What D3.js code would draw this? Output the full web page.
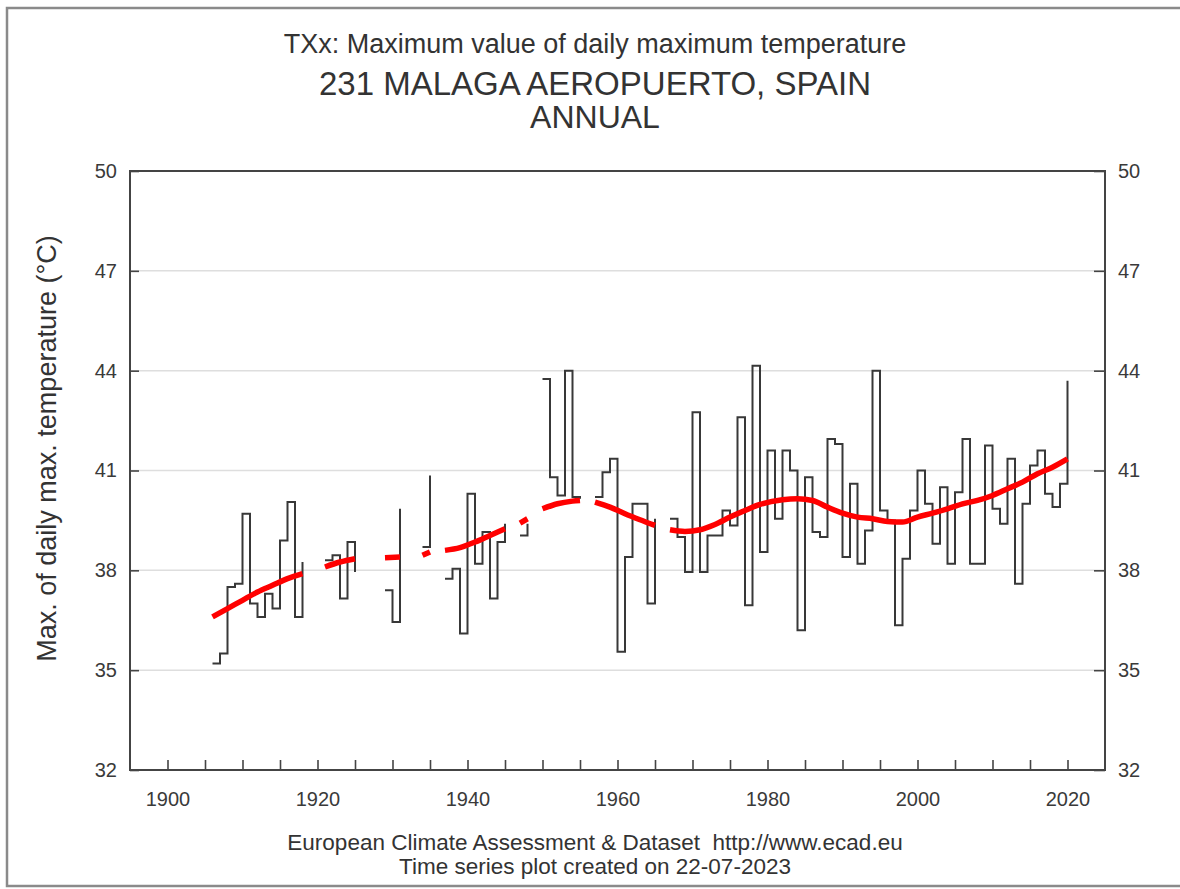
<!DOCTYPE html>
<html>
<head>
<meta charset="utf-8">
<script src="https://cdn.jsdelivr.net/npm/d3@7"></script>
<style>
  body { margin: 0; background: #fff; }
  svg { display: block; font-family: "Liberation Sans", Arial, sans-serif; }
</style>
</head>
<body>
<div id="chart-container"></div>
<script>
// annual TXx values, null = missing year
const years = d3.range(1906, 2021);
const values = [
  35.2, 35.5, 37.5, 37.6, 39.7, 37.0, 36.6, 37.3, 36.85, 38.9,   // 1906-1915
  40.05, 36.6, 38.25, null, null, 38.3, 38.45, 37.15, 38.85, 37.95, // 1916-1925
  null, null, null, 37.4, 36.45, 39.85, null, null, 38.7, 40.85,  // 1926-1935
  null, 37.75, 38.05, 36.1, 40.3, 38.2, 39.15, 37.15, 38.85, 39.4, // 1936-1945
  null, 39.05, 39.4, null, 43.75, 40.8, 40.25, 44.0, 40.2, 40.15, // 1946-1955
  null, 40.2, 40.95, 41.35, 35.55, 38.4, 40.0, 40.0, 37.0, 39.55, // 1956-1965
  null, 39.55, 39.0, 37.95, 42.75, 37.95, 39.05, 39.05, 39.8, 39.35, // 1966-1975
  42.6, 36.95, 44.15, 38.55, 41.6, 39.55, 41.6, 41.0, 36.2, 40.8, // 1976-1985
  39.15, 39.0, 41.95, 41.8, 38.4, 40.6, 38.2, 39.2, 44.0, 39.8,   // 1986-1995
  39.5, 36.35, 38.35, 39.8, 41.0, 40.0, 38.8, 40.5, 38.2, 40.35,  // 1996-2005
  41.95, 38.2, 38.2, 41.75, 39.85, 39.4, 41.35, 37.6, 40.0, 41.15, // 2006-2015
  41.6, 40.3, 39.9, 40.6, 43.7                                    // 2016-2020
];

// smoothed trend (red), null breaks the line
const trendYears = [
  1906, 1908, 1910, 1912, 1914, 1916, 1918, 1919,
  1921, 1923, 1925, 1926,
  1929, 1931, 1932,
  1934, 1935, 1936,
  1937, 1939, 1941, 1943, 1945, 1946,
  1947, 1948, 1949,
  1950, 1952, 1954, 1955, 1956,
  1957, 1959, 1961, 1963, 1965, 1966,
  1967, 1969, 1971, 1973, 1975, 1977, 1979, 1982, 1984, 1986, 1988, 1990,
  1992, 1994, 1996, 1998, 2000, 2002, 2004, 2006, 2008, 2010, 2012, 2014,
  2016, 2018, 2020
];
const trendValues = [
  36.6, 36.85, 37.1, 37.35, 37.55, 37.75, 37.9, null,
  38.1, 38.25, 38.35, null,
  38.38, 38.4, null,
  38.45, 38.55, null,
  38.6, 38.68, 38.85, 39.05, 39.25, null,
  39.42, 39.55, null,
  39.85, 40.0, 40.08, 40.1, null,
  40.05, 39.9, 39.7, 39.52, 39.35, null,
  39.22, 39.17, 39.22, 39.38, 39.6, 39.8, 39.98, 40.12, 40.15, 40.1, 39.9, 39.72,
  39.6, 39.55, 39.47, 39.45, 39.6, 39.72, 39.85, 40.0, 40.1, 40.25, 40.45, 40.65,
  40.9, 41.1, 41.35
];

const yTicks = [32, 35, 38, 41, 44, 47, 50];
const xTicks = d3.range(1900, 2021, 5);

const W = 1180, H = 889;
const plot = { left: 130, right: 1105, top: 171, bottom: 770 };

const svg = d3.select("#chart-container")
    .append("svg")
    .attr("width", W)
    .attr("height", H);

// outer frame
svg.append("rect")
    .attr("x", 7).attr("y", 8)
    .attr("width", W).attr("height", 878)
    .attr("fill", "none")
    .attr("stroke", "#8a8a8a")
    .attr("stroke-width", 2.5);

const x = d3.scaleLinear().domain([1895, 2025]).range([plot.left, plot.right]);
const y = d3.scaleLinear().domain([32, 50]).range([plot.bottom, plot.top]);

// grid lines
svg.append("g")
    .selectAll("line")
    .data(yTicks.slice(1, -1))
    .join("line")
    .attr("x1", plot.left).attr("x2", plot.right)
    .attr("y1", d => y(d)).attr("y2", d => y(d))
    .attr("stroke", "#dedede")
    .attr("stroke-width", 1.5);

// axes
const axisStyle = g => {
    g.select(".domain").remove();
    g.selectAll(".tick line").attr("stroke", "#444").attr("stroke-width", 1.6);
    g.selectAll(".tick text")
        .attr("fill", "#3a3a3a")
        .style("font-size", "20px")
        .style("font-family", "'Liberation Sans', Arial, sans-serif");
};

svg.append("g")
    .attr("transform", `translate(${plot.left},0)`)
    .call(d3.axisLeft(y).tickValues(yTicks).tickSize(-9).tickPadding(13))
    .call(axisStyle);

svg.append("g")
    .attr("transform", `translate(${plot.right},0)`)
    .call(d3.axisRight(y).tickValues(yTicks).tickSize(-11).tickPadding(13))
    .call(axisStyle);

svg.append("g")
    .attr("transform", `translate(0,${plot.bottom})`)
    .call(d3.axisBottom(x).tickValues(xTicks).tickSize(-10).tickPadding(22)
        .tickFormat(d => d % 20 === 0 ? d : ""))
    .call(axisStyle);

// plot frame
svg.append("rect")
    .attr("x", plot.left).attr("y", plot.top)
    .attr("width", plot.right - plot.left)
    .attr("height", plot.bottom - plot.top)
    .attr("fill", "none")
    .attr("stroke", "#444")
    .attr("stroke-width", 2);

// step series
const data = years.map((yr, i) => ({ yr, v: values[i] }));
const step = d3.line()
    .defined(d => d.v !== null)
    .x(d => x(d.yr))
    .y(d => y(d.v))
    .curve(d3.curveStepAfter);

svg.append("path")
    .datum(data)
    .attr("d", step)
    .attr("fill", "none")
    .attr("stroke", "#383838")
    .attr("stroke-width", 2);

// trend
const trend = trendYears.map((yr, i) => ({ yr, v: trendValues[i] }));
const smooth = d3.line()
    .defined(d => d.v !== null)
    .x(d => x(d.yr))
    .y(d => y(d.v))
    .curve(d3.curveMonotoneX);

svg.append("path")
    .datum(trend)
    .attr("d", smooth)
    .attr("fill", "none")
    .attr("stroke", "#ff0000")
    .attr("stroke-width", 5.5);

// titles
const cx = 595;
svg.append("text")
    .attr("x", cx).attr("y", 53)
    .attr("text-anchor", "middle")
    .attr("fill", "#333")
    .style("font-size", "27px")
    .text("TXx: Maximum value of daily maximum temperature");

svg.append("text")
    .attr("x", cx).attr("y", 95)
    .attr("text-anchor", "middle")
    .attr("fill", "#333")
    .style("font-size", "33px")
    .text("231 MALAGA AEROPUERTO, SPAIN");

svg.append("text")
    .attr("x", cx).attr("y", 128)
    .attr("text-anchor", "middle")
    .attr("fill", "#333")
    .style("font-size", "32px")
    .text("ANNUAL");

// y label
svg.append("text")
    .attr("transform", `translate(56,${(plot.top + plot.bottom) / 2 - 22}) rotate(-90)`)
    .attr("text-anchor", "middle")
    .attr("fill", "#333")
    .style("font-size", "27px")
    .text("Max. of daily max. temperature (°C)");

// footer
svg.append("text")
    .attr("x", cx).attr("y", 850)
    .attr("text-anchor", "middle")
    .attr("fill", "#333")
    .style("font-size", "22.5px")
    .style("white-space", "pre")
    .text("European Climate Assessment & Dataset  http://www.ecad.eu");

svg.append("text")
    .attr("x", cx).attr("y", 874)
    .attr("text-anchor", "middle")
    .attr("fill", "#333")
    .style("font-size", "22.5px")
    .text("Time series plot created on 22-07-2023");
</script>
</body>
</html>
